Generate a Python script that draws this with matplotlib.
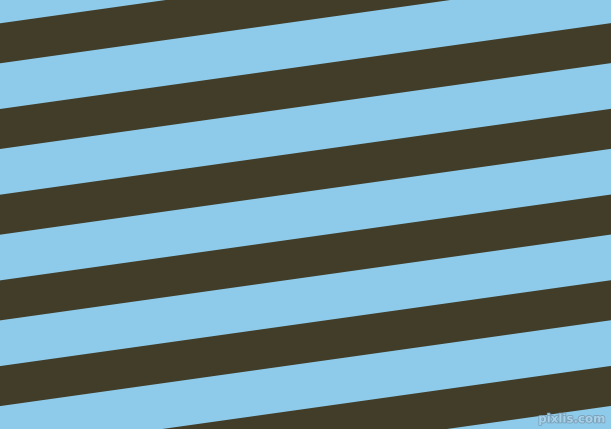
import numpy as np
import matplotlib
matplotlib.use("Agg")
import matplotlib.pyplot as plt
import matplotlib.patheffects as pe

# stripe pattern, measured in pixels off the picture
width, height = 611, 429
angle_deg = 8.0
period = 85.7          # vertical repeat of the stripes
dark_thick = 40.0      # vertical thickness of each dark band
first_top = 23.3       # top edge of first dark band at x = 0
stripe_index = [0, 1, 2, 3, 4, 5]

light_color = "#8ecbeb"
dark_color = "#413d29"

fig = plt.figure(figsize=(width / 100, height / 100), dpi=100)
ax = fig.add_axes([0, 0, 1, 1])
ax.set_facecolor(light_color)
ax.set_xlim(0, width)
ax.set_ylim(height, 0)
ax.axis("off")
fig.patch.set_facecolor(light_color)

x = np.array([0, width])
slope = np.tan(np.radians(angle_deg))
for k in stripe_index:
	top = first_top + k * period - slope * x
	ax.fill_between(x, top, top + dark_thick, color=dark_color, linewidth=0)

t = ax.text(605, 419, "pixlis.com", color="#a8d2ea", fontsize=8.5,
	fontweight="bold", ha="right", va="center")
t.set_path_effects([pe.withStroke(linewidth=1.2, foreground="#7a9fb6")])

fig.savefig("out.png", dpi=100, facecolor=light_color)
